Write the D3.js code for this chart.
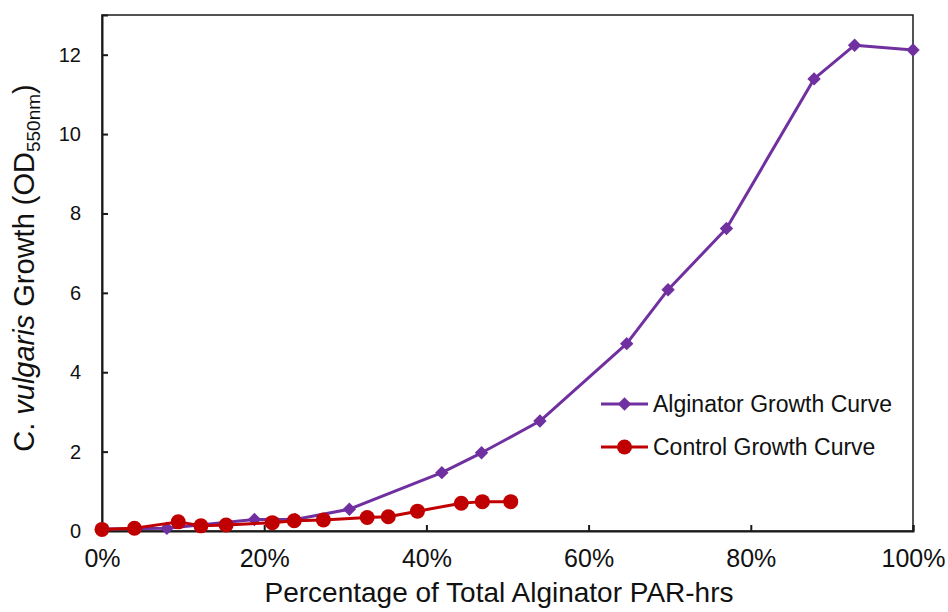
<!DOCTYPE html>
<html>
<head>
<meta charset="utf-8">
<script src="https://cdn.jsdelivr.net/npm/d3@7"></script>
<style>
  body { margin: 0; background: #fff; }
  svg { font-family: "Liberation Sans", Arial, sans-serif; }
</style>
</head>
<body>
<div id="chart"></div>
<script>
// Alginator series (x in % of total PAR-hrs, y in OD550nm)
const alginatorX = [0, 8.0, 18.8, 23.8, 30.5, 41.9, 46.8, 54.0, 64.7, 69.8, 77.0, 87.8, 92.8, 100];
const alginatorY = [0.05, 0.07, 0.29, 0.29, 0.55, 1.47, 1.97, 2.77, 4.72, 6.08, 7.62, 11.39, 12.24, 12.12];

// Control series
const controlX = [0, 4.0, 9.4, 12.2, 15.3, 21.0, 23.7, 27.3, 32.7, 35.3, 38.9, 44.3, 46.9, 50.4];
const controlY = [0.04, 0.07, 0.23, 0.13, 0.15, 0.21, 0.26, 0.28, 0.34, 0.36, 0.50, 0.70, 0.74, 0.74];

const xTicks = [0, 20, 40, 60, 80, 100];
const yTicks = [0, 2, 4, 6, 8, 10, 12];

const seriesNames = ["Alginator Growth Curve", "Control Growth Curve"];
const seriesColors = ["#7030A0", "#C00000"];

const width = 948, height = 612;
const margin = {top: 15, right: 35, bottom: 81, left: 102};

const svg = d3.select("#chart").append("svg")
    .attr("width", width).attr("height", height);

const x = d3.scaleLinear().domain([0, 100]).range([margin.left, width - margin.right]);
const y = d3.scaleLinear().domain([0, 13]).range([height - margin.bottom, margin.top]);

// plot frame
svg.append("rect")
    .attr("x", x(0)).attr("y", y(13))
    .attr("width", x(100) - x(0)).attr("height", y(0) - y(13))
    .attr("fill", "none").attr("stroke", "#1a1a1a").attr("stroke-width", 1.5);

// axes, ticks pointing inward
const xAxis = svg.append("g")
    .attr("transform", `translate(0,${y(0)})`)
    .call(d3.axisBottom(x).tickValues(xTicks).tickSize(-6).tickPadding(15).tickFormat(d => d + "%"));
const yAxis = svg.append("g")
    .attr("transform", `translate(${x(0)},0)`)
    .call(d3.axisLeft(y).tickValues(yTicks).tickSize(-6).tickPadding(21));

[xAxis, yAxis].forEach(g => {
    g.select(".domain").attr("stroke", "#1a1a1a").attr("stroke-width", 2);
    g.selectAll(".tick line").attr("stroke", "#1a1a1a").attr("stroke-width", 2);
    g.selectAll(".tick text").attr("fill", "#111")
        .attr("font-family", "Liberation Sans, Arial, sans-serif");
});
xAxis.selectAll(".tick text").attr("font-size", 25).attr("dy", "0.82em");
yAxis.selectAll(".tick text").attr("font-size", 20);

// axis titles
svg.append("text")
    .attr("x", 499).attr("y", 602)
    .attr("text-anchor", "middle").attr("font-size", 28).attr("fill", "#111")
    .text("Percentage of Total Alginator PAR-hrs");

const yTitle = svg.append("text")
    .attr("transform", `translate(34,268) rotate(-90)`)
    .attr("text-anchor", "middle").attr("font-size", 29).attr("fill", "#111");
yTitle.append("tspan").text("C. ");
yTitle.append("tspan").attr("font-style", "italic").text("vulgaris");
yTitle.append("tspan").text(" Growth (OD");
yTitle.append("tspan").attr("font-size", 19).attr("dy", 6).text("550nm");
yTitle.append("tspan").attr("dy", -6).text(")");

// series
const line = d3.line().x(d => x(d[0])).y(d => y(d[1]));
const algData = d3.zip(alginatorX, alginatorY);
const ctlData = d3.zip(controlX, controlY);

const diamond = d3.symbol().type(d3.symbolSquare).size(90);

function drawSeries(data, color, marker) {
    svg.append("path").datum(data)
        .attr("fill", "none").attr("stroke", color).attr("stroke-width", 3)
        .attr("stroke-linejoin", "round").attr("d", line);
    const pts = svg.append("g").selectAll("g").data(data).join("g")
        .attr("transform", d => `translate(${x(d[0])},${y(d[1])})`);
    if (marker === "diamond") {
        pts.append("path").attr("d", diamond).attr("transform", "rotate(45)").attr("fill", color);
    } else {
        pts.append("circle").attr("r", 7.5).attr("fill", color);
    }
}

drawSeries(algData, seriesColors[0], "diamond");
drawSeries(ctlData, seriesColors[1], "circle");

// legend
const legend = svg.append("g").attr("transform", "translate(601,404)");
seriesNames.forEach((name, i) => {
    const g = legend.append("g").attr("transform", `translate(0,${i * 43})`);
    g.append("line").attr("x1", 0).attr("x2", 47).attr("stroke", seriesColors[i]).attr("stroke-width", 3);
    if (i === 0) g.append("path").attr("transform", "translate(23.5,0) rotate(45)").attr("d", diamond).attr("fill", seriesColors[i]);
    else g.append("circle").attr("cx", 23.5).attr("r", 7.5).attr("fill", seriesColors[i]);
    g.append("text").attr("x", 52).attr("dy", "0.36em").attr("font-size", 23).attr("fill", "#111").text(name);
});
</script>
</body>
</html>
